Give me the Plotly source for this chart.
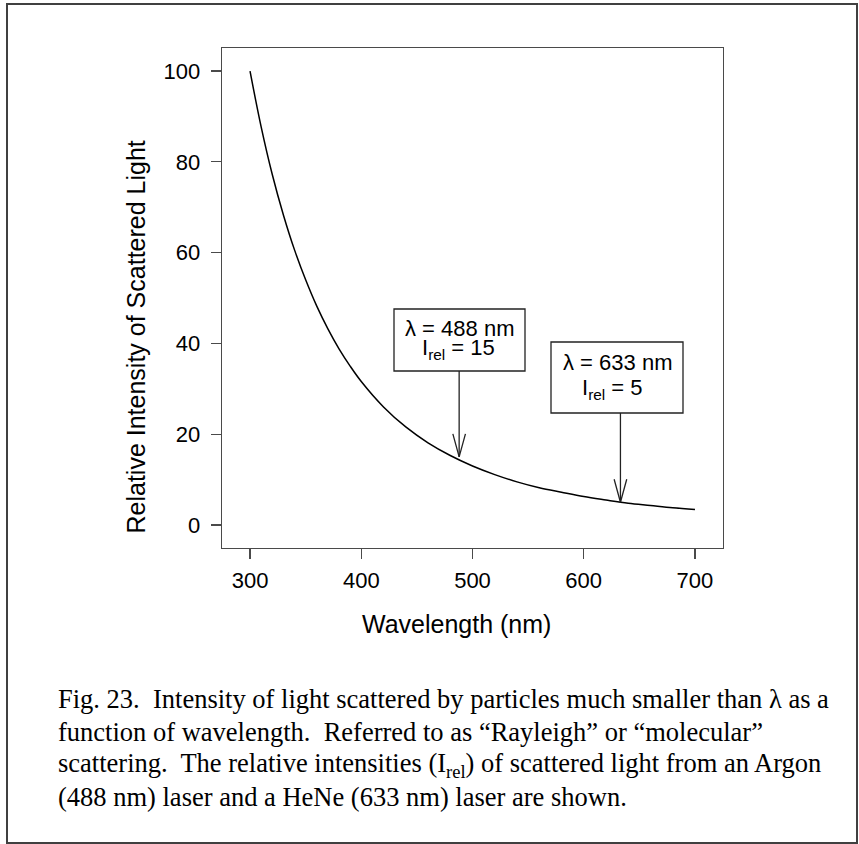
import plotly.graph_objects as go

# ---------------- data ----------------
wavelength_nm = [300, 310, 320, 330, 340, 350, 360, 370, 380, 390, 400,
                 420, 440, 460, 480, 500, 520, 540, 560, 580, 600,
                 620, 640, 660, 680, 700]
rel_intensity = [100, 87.7, 77.2, 68.3, 60.6, 54.0, 48.2, 43.2, 38.8, 35.0, 31.6,
                 26.0, 21.6, 18.1, 15.3, 13.0, 11.1, 9.5, 8.2, 7.2, 6.25,
                 5.5, 4.8, 4.3, 3.8, 3.4]
x_ticks = [300, 400, 500, 600, 700]
y_ticks = [0, 20, 40, 60, 80, 100]
laser_wl = [488, 633]
laser_I = [15, 5]
label_line1 = ["λ = 488 nm", "λ = 633 nm"]
label_line2 = ["I<sub>rel</sub> = 15", "I<sub>rel</sub> = 5"]
x_title = "Wavelength (nm)"
y_title = "Relative Intensity of Scattered Light"
caption_lines = [
    "Fig. 23.\u00a0 Intensity of light scattered by particles much smaller than λ as a",
    "function of wavelength.\u00a0 Referred to as “Rayleigh” or “molecular”",
    "scattering.\u00a0 The relative intensities (I<sub>rel</sub>) of scattered light from an Argon",
    "(488 nm) laser and a HeNe (633 nm) laser are shown.",
]

# ---------------- layout constants (pixels) ----------------
FW, FH = 859, 844
L, R, T, B = 222, 723, 48, 548
XR = [274.8, 725.2]
YR = [-5.07, 105.07]
SANS = "Liberation Sans, Arial, sans-serif"
SERIF = "Liberation Serif, Times New Roman, serif"
AX = "#4a4a4a"


def pxp(x):
    return (x - L) / (R - L)


def pyp(y):
    return (B - y) / (B - T)


def ydat(y):
    return YR[0] + (B - y) / (B - T) * (YR[1] - YR[0])


x_per_px = (XR[1] - XR[0]) / (R - L)
y_per_px = (YR[1] - YR[0]) / (B - T)

fig = go.Figure()
fig.add_trace(go.Scatter(x=wavelength_nm, y=rel_intensity, mode="lines",
                         line=dict(color="black", width=1.5, shape="spline"),
                         hoverinfo="skip", showlegend=False))

# label boxes (pixel layout)
boxes = [(394, 309, 525, 371), (551, 342, 683, 413)]
line1_pos = [(459.5, 328), (617.5, 362)]
line2_pos = [(458.5, 348.5), (612.5, 389)]
shapes = []
annotations = []
for i in range(len(laser_wl)):
    x0, y0, x1, y1 = boxes[i]
    shapes.append(dict(type="rect", xref="paper", yref="paper",
                       x0=pxp(x0), x1=pxp(x1), y0=pyp(y1), y1=pyp(y0),
                       line=dict(color="#222", width=1.3), fillcolor="white"))
    # arrow shaft
    fig.add_trace(go.Scatter(x=[laser_wl[i], laser_wl[i]], y=[ydat(y1), laser_I[i]],
                             mode="lines", line=dict(color="#222", width=1.3),
                             hoverinfo="skip", showlegend=False))
    # open arrow head
    dx = 6.3 * x_per_px
    dy = 23 * y_per_px
    fig.add_trace(go.Scatter(x=[laser_wl[i] - dx, laser_wl[i], laser_wl[i] + dx],
                             y=[laser_I[i] + dy, laser_I[i], laser_I[i] + dy],
                             mode="lines", line=dict(color="#222", width=1.3),
                             hoverinfo="skip", showlegend=False))
    for txt, (cx, cy) in ((label_line1[i], line1_pos[i]), (label_line2[i], line2_pos[i])):
        annotations.append(dict(text=txt, xref="paper", yref="paper",
                                x=pxp(cx), y=pyp(cy), xanchor="center", yanchor="middle",
                                showarrow=False, borderpad=0,
                                font=dict(family=SANS, size=22, color="black")))

# axis titles
annotations.append(dict(text=x_title, xref="paper", yref="paper",
                        x=pxp(456.6), y=pyp(623.5), xanchor="center", yanchor="middle",
                        showarrow=False, font=dict(family=SANS, size=25, color="black")))
annotations.append(dict(text=y_title, xref="paper", yref="paper", textangle=-90,
                        x=pxp(135.5), y=pyp(337), xanchor="center", yanchor="middle",
                        showarrow=False, font=dict(family=SANS, size=25, color="black")))

# caption
cap_baselines = [707, 739.5, 772.5, 805]
for txt, bl in zip(caption_lines, cap_baselines):
    annotations.append(dict(text=txt, xref="paper", yref="paper",
                            x=pxp(57), y=pyp(bl - 8), xanchor="left", yanchor="middle",
                            showarrow=False, borderpad=0,
                            font=dict(family=SERIF, size=26.5, color="black")))

# outer frame
shapes.append(dict(type="rect", xref="paper", yref="paper", layer="below",
                   x0=pxp(7), x1=pxp(857), y0=pyp(843), y1=pyp(4),
                   line=dict(color="#404040", width=2)))

fig.update_layout(
    width=FW, height=FH, autosize=False,
    margin=dict(l=L, r=FW - R, t=T, b=FH - B, pad=0),
    paper_bgcolor="white", plot_bgcolor="white",
    shapes=shapes, annotations=annotations, showlegend=False,
    xaxis=dict(range=XR, tickvals=x_ticks, ticks="outside", ticklen=10,
               tickwidth=1.3, tickcolor=AX, showline=True, linecolor=AX,
               linewidth=1.3, mirror=True, showgrid=False, zeroline=False,
               ticklabelstandoff=2,
               tickfont=dict(family=SANS, size=22, color="black")),
    yaxis=dict(range=YR, tickvals=y_ticks, ticks="outside", ticklen=10,
               tickwidth=1.3, tickcolor=AX, showline=True, linecolor=AX,
               linewidth=1.3, mirror=True, showgrid=False, zeroline=False,
               ticklabelstandoff=6,
               tickfont=dict(family=SANS, size=22, color="black")),
)

fig.write_html("out.html",
               config={"displayModeBar": False, "staticPlot": True},
               post_script="document.body.style.margin='0px';document.body.style.overflow='hidden';")
